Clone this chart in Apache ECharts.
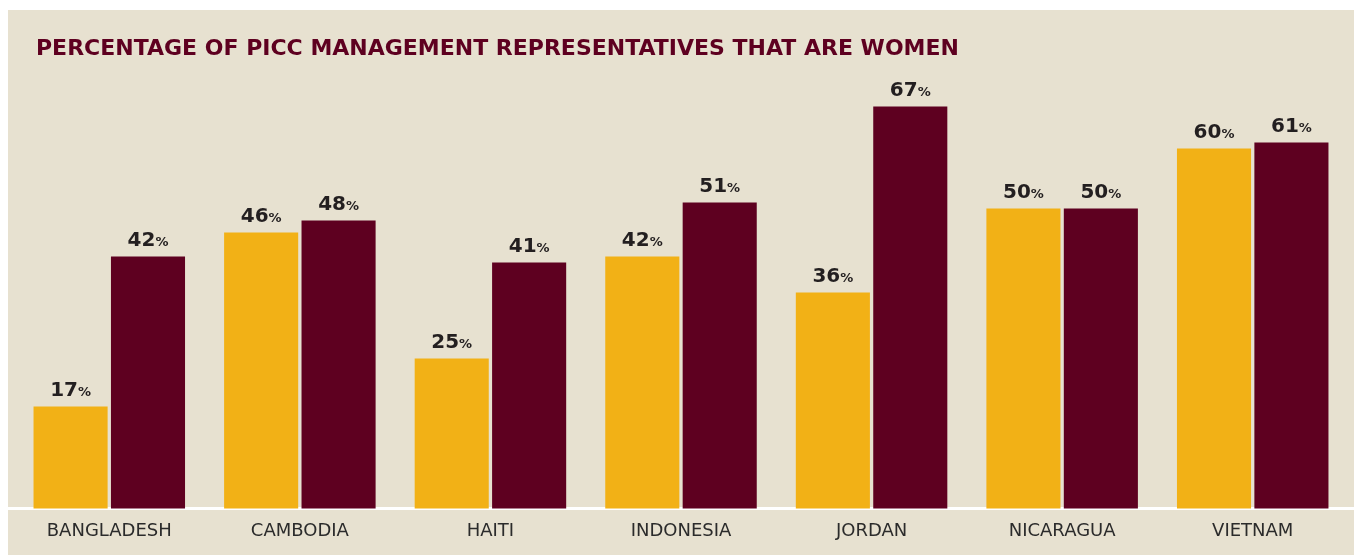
<!DOCTYPE html>
<html><head><meta charset="utf-8">
<script src="https://cdn.jsdelivr.net/npm/echarts@6/dist/echarts.min.js"></script>
<style>
html,body{margin:0;padding:0;background:#fff;width:1359px;height:555px;overflow:hidden}
#c{position:absolute;left:8px;top:10px;width:1346px;height:545px;background:#e7e1d0}
</style></head><body>
<div id="c"></div>
<script>
const title = 'PERCENTAGE OF PICC MANAGEMENT REPRESENTATIVES THAT ARE WOMEN';
const categories = ['BANGLADESH','CAMBODIA','HAITI','INDONESIA','JORDAN','NICARAGUA','VIETNAM'];
const seriesA = [17, 46, 25, 42, 36, 50, 60];
const seriesB = [42, 48, 41, 51, 67, 50, 61];
const colors = ['#f2b116', '#5e0020'];

const chart = echarts.init(document.getElementById('c'), null, {renderer:'canvas'});
const label = {
  show: true, position: 'top', distance: 6,
  formatter: p => '{n|' + p.value + '}{p|%}',
  rich: {
    n: {fontFamily: 'DejaVu Sans', fontWeight: 'bold', fontSize: 20, color: '#231f20'},
    p: {fontFamily: 'DejaVu Sans', fontWeight: 'bold', fontSize: 13, color: '#231f20', padding:[4,0,0,0]}
  }
};
chart.setOption({
  backgroundColor: '#e7e1d0',
  animation: false,
  title: {
    text: title, left: 23, top: 23,
    textStyle: {fontFamily: 'DejaVu Sans', fontWeight: 'bold', fontSize: 22, color: '#5e0020'}
  },
  grid: {left: 6, right: 6, top: 78.5, bottom: 46.5, containLabel: false},
  xAxis: {
    type: 'category', data: categories,
    axisLine: {show: true, lineStyle: {color: '#ffffff', width: 3}},
    axisTick: {show: false},
    axisLabel: {fontFamily: 'DejaVu Sans', fontSize: 18, color: '#2b2b2b', margin: 14}
  },
  yAxis: {type: 'value', min: 0, max: 70, show: false, splitLine: {show: false}},
  graphic: [{
    type: 'line', z: 0, silent: true,
    shape: {x1: 0, y1: 498.5, x2: 1346, y2: 498.5},
    style: {stroke: '#ffffff', lineWidth: 3}
  }],
  series: [
    {type: 'bar', data: seriesA, itemStyle: {color: colors[0]}, barGap: '4.5%', barCategoryGap: '20.5%', label: label},
    {type: 'bar', data: seriesB, itemStyle: {color: colors[1]}, label: label}
  ]
});
</script>
</body></html>
